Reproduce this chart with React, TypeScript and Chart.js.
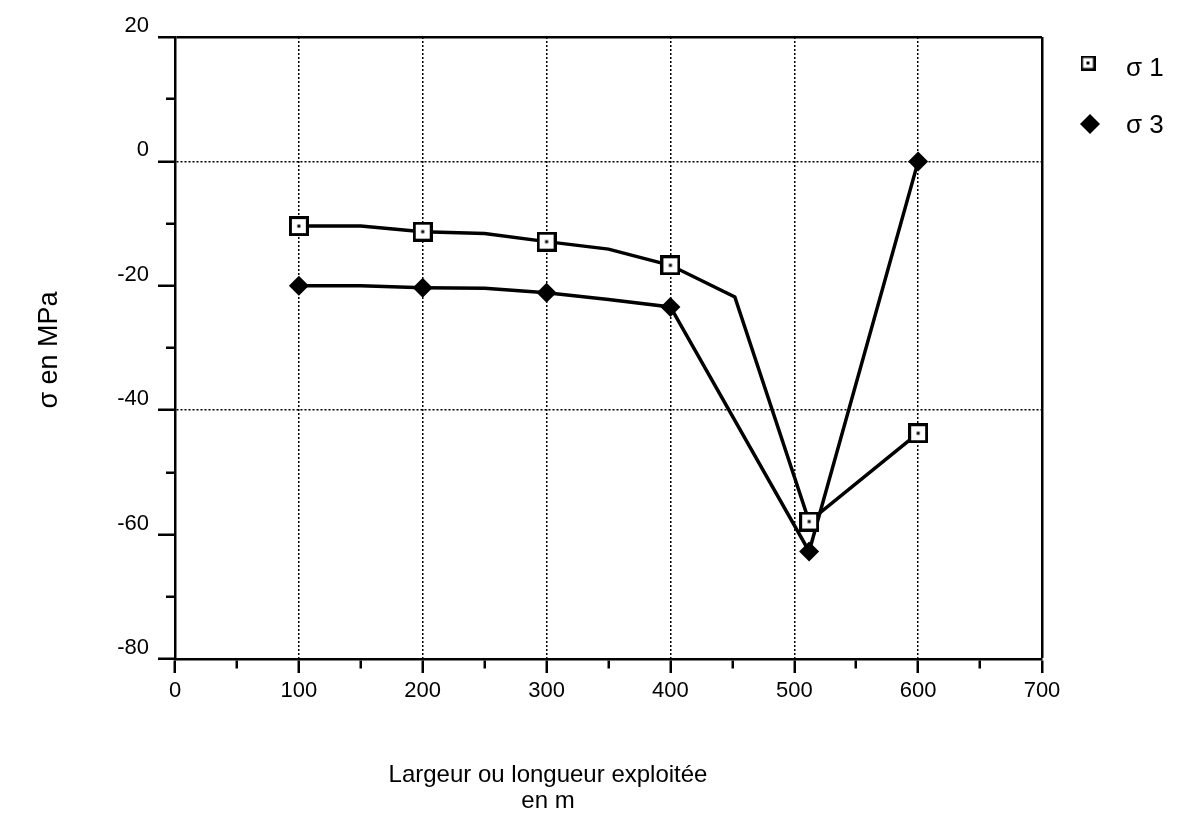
import React, { useEffect, useRef } from "react";
import { Chart, registerables } from "chart.js";

Chart.register(...registerables);

// Measured marker values
const sigma1X = [100, 200, 300, 400, 512, 600];
const sigma1Y = [-10.4, -11.3, -12.9, -16.7, -57.9, -43.7];
const sigma3X = [100, 200, 300, 400, 512, 600];
const sigma3Y = [-20.0, -20.3, -21.1, -23.4, -62.7, 0];

// Vertices of the drawn connecting lines
const sigma1LineX = [100, 150, 200, 250, 300, 350, 400, 452, 512, 600];
const sigma1LineY = [-10.4, -10.4, -11.3, -11.6, -12.9, -14.1, -16.7, -21.8, -57.9, -43.7];
const sigma3LineX = [100, 150, 200, 250, 300, 350, 400, 512, 600];
const sigma3LineY = [-20.0, -20.0, -20.3, -20.4, -21.1, -22.2, -23.4, -62.7, 0];

const seriesLabels = ["σ 1", "σ 3"];
const xAxisTitle = ["Largeur ou longueur exploitée", "en m"];
const yAxisTitle = "σ en MPa";
const xMin = 0, xMax = 700, xMajor = 100, xMinor = 50;
const yMin = -80, yMax = 20, yMajor = 20, yMinor = 10;
const yGridValues = [0, -40];

const FONT = "'Liberation Sans', Arial, sans-serif";

function makeSquare(size: number, lw: number, dot: number): HTMLCanvasElement {
  const c = document.createElement("canvas");
  c.width = size;
  c.height = size;
  const g = c.getContext("2d")!;
  g.fillStyle = "#fff";
  g.fillRect(0, 0, size, size);
  g.strokeStyle = "#000";
  g.lineWidth = lw;
  g.strokeRect(lw / 2, lw / 2, size - lw, size - lw);
  g.fillStyle = "#000";
  g.fillRect(size / 2 - dot / 2, size / 2 - dot / 2, dot, dot);
  return c;
}

export default function App() {
  const ref = useRef<HTMLCanvasElement | null>(null);

  useEffect(() => {
    if (!ref.current) return;
    const sq = makeSquare(20, 3, 3);
    const sqLegend = makeSquare(15, 2.5, 3);

    const overlay = {
      id: "overlayText",
      afterDraw(chart: any) {
        const ctx = chart.ctx as CanvasRenderingContext2D;
        ctx.save();
        ctx.fillStyle = "#000";
        // y title
        ctx.save();
        ctx.translate(42, 342);
        ctx.rotate(-Math.PI / 2);
        ctx.font = `27px ${FONT}`;
        ctx.textAlign = "center";
        ctx.textBaseline = "middle";
        ctx.fillText(yAxisTitle, 0, 0);
        ctx.restore();
        // x title
        ctx.font = `24px ${FONT}`;
        ctx.textAlign = "center";
        ctx.textBaseline = "middle";
        ctx.fillText(xAxisTitle[0], 540, 767);
        ctx.fillText(xAxisTitle[1], 540, 793);
        // legend
        ctx.drawImage(sqLegend, 1080 - 7.5, 55 - 7.5);
        ctx.beginPath();
        const dx = 1082, dy = 116, r = 10;
        ctx.moveTo(dx - r, dy);
        ctx.lineTo(dx, dy - r);
        ctx.lineTo(dx + r, dy);
        ctx.lineTo(dx, dy + r);
        ctx.closePath();
        ctx.fill();
        ctx.font = `26px ${FONT}`;
        ctx.textAlign = "left";
        ctx.fillText(seriesLabels[0], 1118, 61);
        ctx.fillText(seriesLabels[1], 1118, 118);
        ctx.restore();
      },
    };

    const isMinorX = (v: number) => v % xMajor !== 0;
    const isMinorY = (v: number) => v % yMajor !== 0;

    const chart = new Chart(ref.current, {
      type: "scatter",
      data: {
        datasets: [
          {
            label: seriesLabels[0],
            data: sigma1X.map((x, i) => ({ x, y: sigma1Y[i] })),
            showLine: false,
            pointStyle: sq as any,
            pointRadius: 10,
            order: 0,
          },
          {
            label: seriesLabels[1],
            data: sigma3X.map((x, i) => ({ x, y: sigma3Y[i] })),
            showLine: false,
            pointStyle: "rectRot",
            pointRadius: 10,
            backgroundColor: "#000",
            borderColor: "#000",
            borderWidth: 0,
            order: 0,
          },
          {
            label: seriesLabels[0] + " line",
            data: sigma1LineX.map((x, i) => ({ x, y: sigma1LineY[i] })),
            showLine: true,
            borderColor: "#000",
            borderWidth: 3.5,
            pointRadius: 0,
            tension: 0,
            order: 1,
          },
          {
            label: seriesLabels[1] + " line",
            data: sigma3LineX.map((x, i) => ({ x, y: sigma3LineY[i] })),
            showLine: true,
            borderColor: "#000",
            borderWidth: 3.5,
            pointRadius: 0,
            tension: 0,
            order: 1,
          },
        ],
      },
      options: {
        animation: false,
        responsive: true,
        maintainAspectRatio: false,
        layout: { padding: { top: 29, right: 133, left: 0, bottom: 0 } },
        plugins: { legend: { display: false }, tooltip: { enabled: false } },
        scales: {
          x: {
            type: "linear",
            min: xMin,
            max: xMax,
            afterFit: (s: any) => { s.height = 156; },
            ticks: {
              stepSize: xMinor,
              autoSkip: false,
              maxRotation: 0,
              padding: 5,
              color: "#000",
              font: { family: FONT, size: 22 },
              callback: (v: any) => (isMinorX(Number(v)) ? "" : String(v)),
            },
            grid: {
              color: (c: any) => {
                const v = c.tick?.value;
                if (v === undefined) return "rgba(0,0,0,0)";
                if (v === xMax) return "#000";
                if (!isMinorX(v) && v > xMin) return "#000";
                return "rgba(0,0,0,0)";
              },
              lineWidth: (c: any) => (c.tick?.value === xMax ? 2.5 : 1.5),
              tickColor: "#000",
              tickWidth: 2.5,
              tickLength: 14,
              tickBorderDash: (c: any) => (isMinorX(c.tick?.value ?? 0) ? [8, 100] : []),
            },
            border: {
              display: true,
              color: "#000",
              width: 2.5,
              dash: (c: any) => {
                const v = c.tick?.value;
                return v !== undefined && v > xMin && v < xMax ? [2, 2] : [];
              },
            },
          },
          y: {
            type: "linear",
            min: yMin,
            max: yMax,
            afterFit: (s: any) => { s.width = 167; },
            ticks: {
              stepSize: yMinor,
              autoSkip: false,
              padding: 9,
              labelOffset: -11,
              color: "#000",
              font: { family: FONT, size: 22 },
              callback: (v: any) => (isMinorY(Number(v)) ? "" : String(v)),
            },
            grid: {
              color: (c: any) => {
                const v = c.tick?.value;
                if (v === undefined) return "rgba(0,0,0,0)";
                if (v === yMax) return "#000";
                if (yGridValues.includes(v)) return "#000";
                return "rgba(0,0,0,0)";
              },
              lineWidth: (c: any) => (c.tick?.value === yMax ? 2.5 : 1.5),
              tickColor: "#000",
              tickWidth: 2.5,
              tickLength: 17,
              tickBorderDash: (c: any) => (isMinorY(c.tick?.value ?? 0) ? [0, 8, 9, 100] : []),
            },
            border: {
              display: true,
              color: "#000",
              width: 2.5,
              dash: (c: any) => {
                const v = c.tick?.value;
                return v !== undefined && yGridValues.includes(v) ? [2, 2] : [];
              },
            },
          },
        },
      },
      plugins: [overlay],
    });

    return () => chart.destroy();
  }, []);

  return (
    <div style={{ width: 1167, height: 807, position: "relative" }}>
      <canvas ref={ref} />
    </div>
  );
}
